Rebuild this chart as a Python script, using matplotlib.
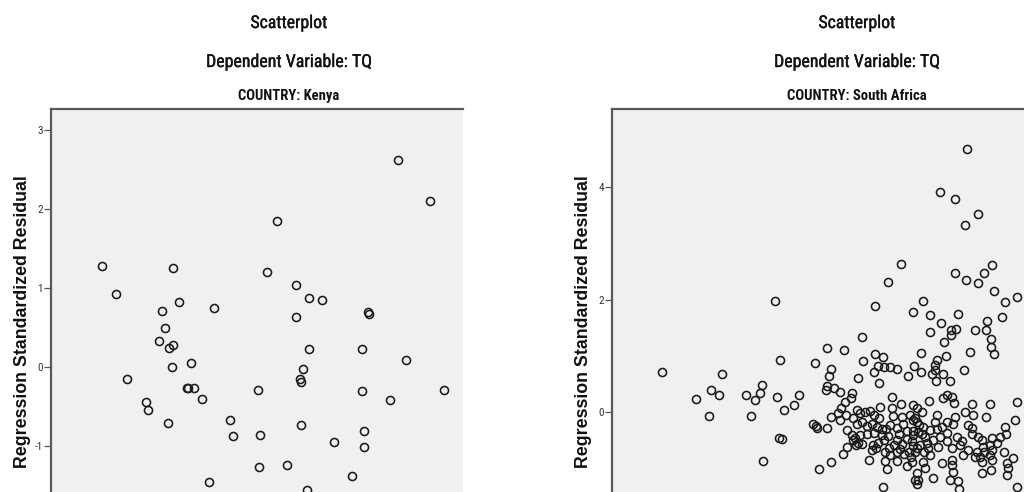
import matplotlib
matplotlib.use("Agg")
import matplotlib.pyplot as plt
import matplotlib.patheffects as pe
from matplotlib import font_manager

# ---------------- data ----------------
titles = ["Scatterplot", "Dependent Variable: TQ"]
countries = ["COUNTRY: Kenya", "COUNTRY: South Africa"]
y_label = "Regression Standardized Residual"

kenya_ticks = [-1, 0, 1, 2, 3]
sa_ticks = [0, 2, 4]

kenya_pred = [0.507, 0.65, 0.757, 0.95, 0.967, 1.11, 1.14, 1.083, 1.177, 1.223,
              1.22, 1.277, 1.21, 1.173, 1.40, 1.357, 1.373, 1.43, 1.513, 1.633,
              1.577, 1.79, 1.823, 2.067, 2.09, 2.08, 3.467, 3.79, 2.26, 2.16,
              2.45, 2.58, 2.707, 2.447, 3.17, 3.177, 2.58, 3.113, 3.547, 2.523,
              2.49, 2.50, 3.107, 3.393, 3.927, 2.503, 2.83, 3.127, 3.133, 2.357,
              3.007, 2.56]
kenya_resid = [1.27, 0.92, -0.15, -0.45, -0.55, 0.70, 0.49, 0.33, 0.24, 0.27,
               1.25, 0.82, 0.0, -0.71, 0.05, -0.27, -0.27, -0.27, -0.41, 0.74,
               -1.46, -0.67, -0.88, -0.30, -0.87, -1.27, 2.62, 2.10, 1.85, 1.20,
               1.04, 0.87, 0.85, 0.63, 0.69, 0.67, 0.23, 0.23, 0.09, -0.03,
               -0.16, -0.19, -0.31, -0.42, -0.29, -0.74, -0.96, -0.81, -1.02, -1.24,
               -1.38, -1.56]

sa_pred = [0.497, 0.84, 0.987, 1.07, 0.967, 1.103, 1.34, 1.433, 1.48, 1.50,
           1.393, 1.507, 1.633, 1.68, 1.65, 1.717, 1.67, 1.703, 1.823, 1.87,
           2.153, 2.317, 2.033, 2.185, 2.503, 2.507, 3.553, 3.28, 3.43, 3.66,
           3.533, 2.887, 2.757, 3.433, 3.54, 3.657, 3.72, 3.803, 3.817, 3.933,
           4.047, 2.63, 3.007, 3.113, 3.183, 3.463, 3.293, 3.387, 3.44, 3.39,
           3.18, 3.63, 3.747, 3.74, 3.897, 3.793, 3.793, 3.82, 3.583, 3.323,
           3.343, 3.087, 3.25, 3.233, 3.227, 3.20, 3.313, 3.38, 3.243, 3.523,
           3.02, 2.963, 3.093, 2.633, 2.707, 2.62, 2.67, 2.663, 2.717, 2.783,
           2.847, 2.46, 2.167, 2.153, 2.217, 2.14, 2.283,
           2.403, 2.387, 2.797, 2.89, 3.013, 2.683, 2.333, 2.293, 2.193, 2.013,
           2.053, 2.04, 2.147, 2.257, 2.34, 2.28, 2.447, 2.48, 2.53, 2.58,
           2.62, 2.667, 2.797, 2.807, 2.90, 2.98, 3.013, 2.413, 2.447, 2.497,
           2.547, 2.597, 2.647, 2.697, 2.74, 2.78, 2.853, 2.913, 2.953, 3.013,
           2.347, 2.397, 2.43, 2.463, 2.497, 2.48, 2.413, 2.44, 2.613, 2.64,
           2.597, 2.72, 2.763, 2.73, 2.77, 2.82, 2.853, 2.88, 2.903, 2.92,
           2.967, 2.987, 3.013, 3.0, 2.953, 2.347, 2.307, 2.187, 2.07, 2.57,
           2.727, 2.753, 2.847, 2.707, 3.03,
           3.353, 3.397, 3.313, 3.42, 3.17, 3.053, 3.097, 3.597, 3.783, 4.047,
           4.033, 3.74, 3.53, 3.613, 3.563, 3.597, 3.663, 3.247, 3.23, 3.43,
           3.413, 3.347, 3.297, 3.18, 3.113, 3.047, 3.063, 3.013, 3.13, 3.213,
           3.28, 3.347, 3.447, 3.48, 3.397, 3.263, 3.163, 3.08, 3.03, 3.18,
           3.93, 3.937, 3.853, 3.797, 3.78, 3.797, 3.78, 3.797, 3.79, 3.697,
           3.707, 3.72, 3.68, 3.697, 3.697, 3.397, 3.397, 3.413, 3.38, 3.463,
           3.297, 3.113, 3.13, 3.053, 3.063, 3.047, 3.207, 3.947, 3.963, 3.947,
           4.013, 3.92, 4.047, 3.473, 3.647, 3.63, 3.513, 3.563,
           3.03, 3.07, 3.10, 3.15, 3.00, 3.05, 3.12, 2.55, 2.62, 2.70,
           2.66, 2.87, 2.95, 2.78, 2.85, 3.35, 3.50, 3.60, 3.88, 3.25]
sa_resid = [0.71, 0.22, 0.39, 0.29, -0.07, 0.68, 0.29, 0.21, 0.34, 0.48,
            -0.07, -0.87, 1.98, 0.92, 0.26, 0.03, -0.47, -0.49, 0.12, 0.30,
            1.14, 1.10, 0.87, 0.77, 1.33, 0.90, 4.68, 3.91, 3.80, 3.52,
            3.32, 2.63, 2.31, 2.48, 2.34, 2.29, 2.48, 2.61, 2.16, 1.96,
            2.05, 1.88, 1.78, 1.97, 1.72, 1.74, 1.58, 1.46, 1.48, 1.37,
            1.42, 1.46, 1.61, 1.46, 1.69, 1.29, 1.16, 1.03, 1.06, 1.24,
            0.99, 1.05, 0.92, 0.84, 0.74, 0.68, 0.67, 0.55, 0.55, 0.74,
            0.82, 0.63, 0.71, 1.03, 0.98, 0.70, 0.52, 0.82, 0.80, 0.79,
            0.77, 0.60, 0.64, 0.46, 0.43, 0.39, 0.35,
            0.33, 0.24, 0.27, 0.14, 0.12, 0.09, 0.17, 0.06, -0.09, -0.21,
            -0.29, -0.25, -0.29, -0.03, -0.06, -0.15, 0.03, -0.03, 0.0, 0.01,
            -0.05, -0.11, 0.06, -0.07, -0.09, -0.06, -0.15, -0.12, -0.22, -0.18,
            -0.25, -0.22, -0.28, -0.30, -0.31, -0.24, -0.29, -0.21, -0.34, -0.34,
            -0.33, -0.42, -0.46, -0.55, -0.57, -0.42, -0.51, -0.59, -0.59, -0.65,
            -0.69, -0.50, -0.43, -0.72, -0.65, -0.59, -0.50, -0.66, -0.57, -0.75,
            -0.72, -0.81, -0.61, -0.90, -0.96, -0.62, -0.76, -0.90, -1.02, -0.86,
            -0.87, -1.02, -0.88, -1.35, -1.22,
            0.30, 0.26, 0.24, 0.15, 0.19, 0.06, 0.0, 0.13, 0.13, 0.17,
            -0.14, -0.09, 0.0, -0.06, -0.24, -0.29, -0.45, -0.06, -0.18, -0.09,
            -0.21, -0.18, -0.27, -0.33, -0.27, -0.18, -0.36, -0.42, -0.45, -0.50,
            -0.45, -0.53, -0.45, -0.59, -0.65, -0.62, -0.65, -0.59, -0.71, -0.77,
            -0.27, -0.39, -0.55, -0.47, -0.59, -0.68, -0.77, -0.86, -1.04, -0.50,
            -0.62, -0.71, -0.80, -0.89, -1.10, -0.86, -0.95, -1.07, -1.22, -1.24,
            -0.92, -0.89, -1.01, -1.10, -1.22, -1.28, -1.18, -0.92, -1.01, -1.13,
            -0.82, -0.71, -1.34, -1.37, -0.71, -0.80, -0.77, -0.68,
            -0.12, -0.24, -0.40, -0.55, -0.52, -0.65, -0.72, -0.40, -0.38, -0.42,
            -0.55, -0.40, -0.48, -0.78, -0.72, -0.38, -0.52, -0.40, -0.45, -0.30]

# ---------------- fonts ----------------
avail = {f.name for f in font_manager.fontManager.ttflist}
narrow_candidates = ["Liberation Sans Narrow", "Arial Narrow", "DejaVu Sans Condensed",
                     "Roboto Condensed", "Open Sans Condensed", "Liberation Sans"]
narrow = next((f for f in narrow_candidates if f in avail), "DejaVu Sans")
sans = "Liberation Sans" if "Liberation Sans" in avail else "DejaVu Sans"

W, H = 1024, 492
fig = plt.figure(figsize=(W / 100, H / 100), dpi=100)
fig.patch.set_facecolor("white")

panels = [
    dict(left=51, xlim=(0, 4.12), ylim=(-1.588, 3.266), ticks=kenya_ticks,
         x=kenya_pred, y=kenya_resid, title_x=289, ylab_x=23, country=countries[0],
         cw=102),
    dict(left=612, xlim=(0, 4.12), ylim=(-1.431, 5.396), ticks=sa_ticks,
         x=sa_pred, y=sa_resid, title_x=857, ylab_x=583, country=countries[1],
         cw=140),
]

heavier = [pe.withStroke(linewidth=0.25, foreground="#111111")]
fit_texts = []  # (text artist, target width px)
top_px = 109
for p in panels:
    ax = fig.add_axes([p["left"] / W, 0, 412 / W, 1 - top_px / H])
    ax.set_facecolor("#F0F0F0")
    ax.plot(p["x"], p["y"], linestyle="none", marker="o", markersize=5.8,
            markerfacecolor="none", markeredgecolor="#1a1a1a", markeredgewidth=1.15)
    ax.set_xlim(*p["xlim"])
    ax.set_ylim(*p["ylim"])
    ax.set_xticks([])
    ax.set_yticks(p["ticks"])
    ax.set_yticklabels([str(t) for t in p["ticks"]], fontsize=8, family=narrow, color="#333333")
    ax.tick_params(axis="y", length=5, width=0.9, color="#555555", pad=1)
    for s in ["right", "bottom"]:
        ax.spines[s].set_visible(False)
    for s in ["top", "left"]:
        ax.spines[s].set_color("#5a5a5a")
        ax.spines[s].set_linewidth(1.6)

    tx = p["title_x"] / W
    t1 = fig.text(tx, 1 - 23 / H, titles[0], ha="center", va="center", fontsize=14,
                  family=narrow, color="#111111", path_effects=heavier)
    t2 = fig.text(tx, 1 - 62 / H, titles[1], ha="center", va="center", fontsize=14,
                  family=narrow, color="#111111", path_effects=heavier)
    t3 = fig.text(tx, 1 - 96 / H, p["country"], ha="center", va="center", fontsize=10.5,
                  family=narrow, fontweight="bold", color="#111111")
    fit_texts += [(t1, 77), (t2, 167), (t3, p["cw"])]
    fig.text(p["ylab_x"] / W, 1 - 322 / H, y_label, ha="center", va="center", rotation=90,
             fontsize=12.8, family=sans, fontweight="bold", color="#111111")

# scale title sizes so their widths match the reference
fig.canvas.draw()
renderer = fig.canvas.get_renderer()
for t, target in fit_texts:
    w = t.get_window_extent(renderer).width
    if w > 0:
        t.set_fontsize(t.get_fontsize() * target / w)

fig.savefig("out.png", dpi=100)
